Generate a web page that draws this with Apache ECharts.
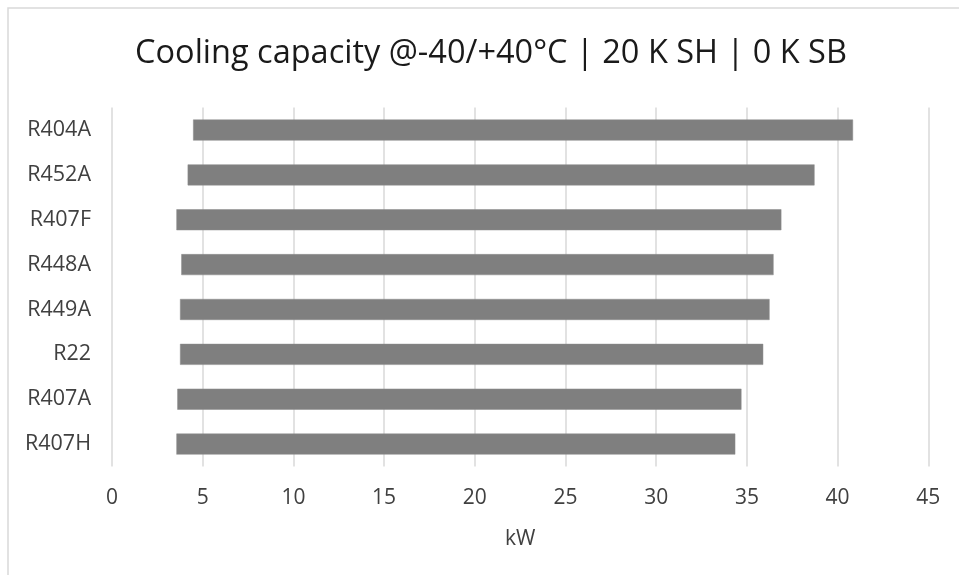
<!DOCTYPE html>
<html>
<head>
<meta charset="utf-8">
<script src="https://cdn.jsdelivr.net/npm/echarts@6/dist/echarts.min.js"></script>
<style>
html,body{margin:0;padding:0;background:#fff;}
#chart{width:959px;height:575px;}
</style>
</head>
<body>
<div id="chart"></div>
<script>
const titleText = 'Cooling capacity @-40/+40°C | 20 K SH | 0 K SB';
const categories = ['R404A','R452A','R407F','R448A','R449A','R22','R407A','R407H'];
const startValues = [4.47, 4.17, 3.55, 3.82, 3.75, 3.75, 3.60, 3.55];
const endValues = [40.85, 38.73, 36.90, 36.47, 36.25, 35.90, 34.70, 34.36];
const xTicks = [0, 5, 10, 15, 20, 25, 30, 35, 40, 45];
const axisName = 'kW';

const lengths = endValues.map((e, i) => +(e - startValues[i]).toFixed(2));
const FONT = 'Open Sans';

const chart = echarts.init(document.getElementById('chart'), null, {renderer: 'canvas'});
chart.setOption({
  animation: false,
  backgroundColor: '#ffffff',
  title: {
    text: titleText,
    left: 486,
    textAlign: 'center',
    top: 32,
    textStyle: {fontFamily: FONT, fontSize: 32.5, fontWeight: 'normal', color: '#1a1a1a'}
  },
  graphic: [{
    type: 'rect',
    shape: {x: 8, y: 8, width: 1000, height: 600},
    style: {fill: 'none', stroke: '#d9d9d9', lineWidth: 1.5},
    silent: true, z: -1
  }],
  grid: {left: 112, right: 30.7, top: 107.6, bottom: 108.5, containLabel: false},
  xAxis: {
    type: 'value',
    min: xTicks[0],
    max: xTicks[xTicks.length - 1],
    interval: xTicks[1] - xTicks[0],
    name: axisName,
    nameLocation: 'middle',
    nameGap: 62,
    nameTextStyle: {fontFamily: FONT, fontSize: 21, color: '#404040'},
    axisLine: {show: false},
    axisTick: {show: false},
    axisLabel: {fontFamily: FONT, fontSize: 21, color: '#404040', margin: 21},
    splitLine: {show: true, lineStyle: {color: '#d9d9d9', width: 1.5}}
  },
  yAxis: {
    type: 'category',
    data: categories,
    inverse: true,
    axisLine: {show: false},
    axisTick: {show: false},
    axisLabel: {fontFamily: FONT, fontSize: 21.5, color: '#404040', margin: 21}
  },
  series: [
    {
      type: 'bar',
      stack: 'range',
      data: startValues,
      itemStyle: {color: 'transparent'},
      barWidth: 21,
      silent: true
    },
    {
      type: 'bar',
      stack: 'range',
      data: lengths,
      itemStyle: {color: '#7f7f7f', borderColor: '#8c8c8c', borderWidth: 0.5},
      barWidth: 21
    }
  ]
});
</script>
</body>
</html>
